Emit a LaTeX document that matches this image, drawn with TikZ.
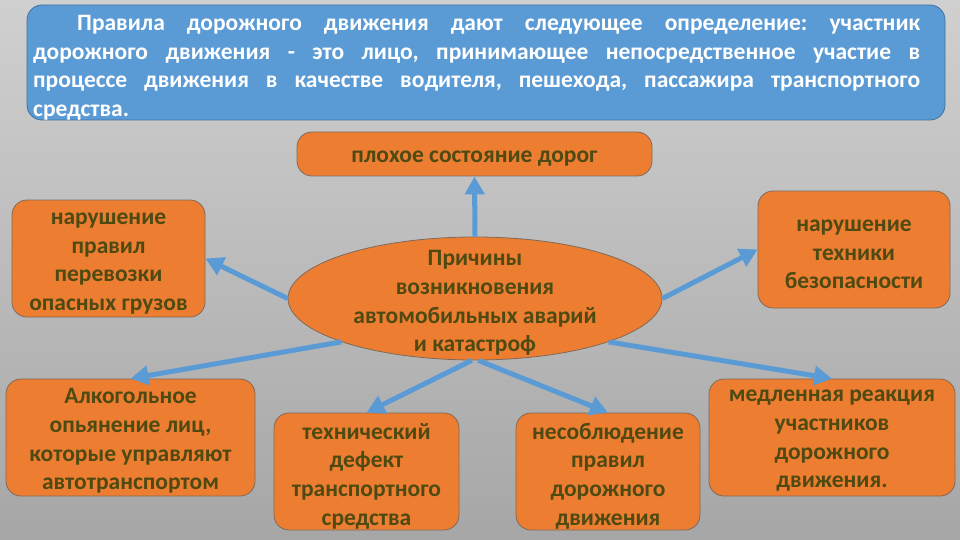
\documentclass[tikz,border=0pt]{standalone}
\usepackage{fontspec}
\setmainfont{Carlito}
\frenchspacing
\usetikzlibrary{shapes.geometric,arrows.meta}
\definecolor{bgtop}{HTML}{D0D0D0}
\definecolor{bgbot}{HTML}{A6A6A6}
\definecolor{bluefill}{HTML}{5B9BD5}
\definecolor{blueedge}{HTML}{41719C}
\definecolor{orfill}{HTML}{ED7D31}
\definecolor{oredge}{HTML}{7F6A5A}
\definecolor{oltext}{HTML}{4E4A12}
\definecolor{arrowblue}{HTML}{5B9BD5}
\tikzset{
  topstrut/.style={execute at begin node={\rule{0pt}{24.5pt}}},
  cause/.style={draw=oredge, line width=0.8pt, fill=orfill, rounded corners=15pt,
    inner sep=0pt},
  center/.style={ellipse, draw=oredge, line width=0.8pt, fill=orfill, inner sep=0pt,
    minimum width=374pt, minimum height=123pt},
  label/.style={inner sep=0pt, align=center, text=oltext,
    font=\fontsize{23.5}{28.7}\selectfont\bfseries},
  conn/.style={draw=arrowblue, line width=5pt, -{Triangle[length=18pt,width=19pt]}},
}
\begin{document}
\begin{tikzpicture}[x=1pt,y=-1pt]
\useasboundingbox (0,0) rectangle (960,540);
\shade[top color=bgtop, bottom color=bgbot] (0,0) rectangle (960,540);
\node[draw=blueedge, line width=0.8pt, fill=bluefill, rounded corners=15pt,
  minimum width=918pt, minimum height=115pt, inner sep=0pt] (def) at (486,62.5) {};
\node[anchor=north west, inner sep=0pt, text width=887pt, align=justify, text=white,
  font=\fontsize{23.5}{28.6}\selectfont\bfseries, topstrut] (deftext) at (33,6)
  {\hspace*{44pt}Правила дорожного движения дают следующее определение: участник\linebreak
   дорожного движения - это лицо, принимающее непосредственное участие в\linebreak
   процессе движения в качестве водителя, пешехода, пассажира транспортного\linebreak
   средства.};
% shapes
\node[cause, minimum width=355pt, minimum height=44pt] (roads) at (474.5,154) {};
\node[center] (main) at (475,298.5) {};
\node[cause, minimum width=193pt, minimum height=117pt] (cargo) at (108.5,258.5) {};
\node[cause, minimum width=192pt, minimum height=117pt] (safety) at (854,249.5) {};
\node[cause, minimum width=249pt, minimum height=117pt] (alco) at (130.5,437.5) {};
\node[cause, minimum width=185pt, minimum height=117pt] (defect) at (366.5,471.5) {};
\node[cause, minimum width=184pt, minimum height=117pt] (rules) at (608,471.5) {};
\node[cause, minimum width=246pt, minimum height=117pt] (slow) at (832,437.5) {};
% texts
\node[label] (roadsT) at (474.5,159) {плохое состояние дорог};
\node[label] (mainT) at (475,303) {Причины\\возникновения\\автомобильных аварий\\и катастроф};
\node[label] (cargoT) at (108.5,263.5) {нарушение\\правил\\перевозки\\опасных грузов};
\node[label] (safetyT) at (854,254.5) {нарушение\\техники\\безопасности};
\node[label] (alcoT) at (130.5,441) {Алкогольное\\опьянение лиц,\\которые управляют\\автотранспортом};
\node[label] (defectT) at (366.5,476) {технический\\дефект\\транспортного\\средства};
\node[label] (rulesT) at (608,476) {несоблюдение\\правил\\дорожного\\движения};
\node[label] (slowT) at (832,441) {медленная реакция\\участников\\дорожного\\движения.};
% connectors
\draw[conn] (main.north) -- (roads.south);
\draw[conn] (main.west) -- (cargo.east);
\draw[conn] (main.east) -- (safety.west);
\draw[conn] (main.198) -- (alco.north);
\draw[conn] (main.267) -- (defect.north);
\draw[conn] (main.273) -- (rules.north);
\draw[conn] (main.342) -- (slow.north);
\end{tikzpicture}
\end{document}
